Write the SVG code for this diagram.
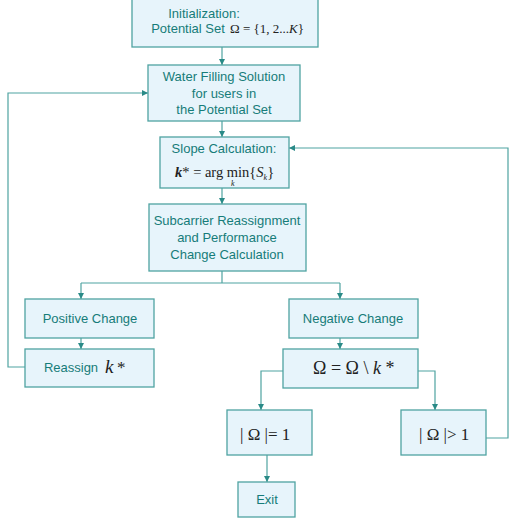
<svg xmlns="http://www.w3.org/2000/svg" width="510" height="520" viewBox="0 0 510 520">
<style>
.box{fill:#e7f4fb;stroke:#4fa3a1;stroke-width:1.3}
.t{font-family:"Liberation Sans",Arial,sans-serif;font-size:13px;fill:#167c79;text-anchor:middle}
.m{font-family:"Liberation Serif","Times New Roman",serif;fill:#222;}
.c{fill:none;stroke:#4fa3a1;stroke-width:1.2}
</style>
<defs>
<marker id="ah" viewBox="0 0 8 8" refX="8" refY="4" markerWidth="6" markerHeight="6" orient="auto" markerUnits="userSpaceOnUse">
<path d="M0,0 L8,4 L0,8 z" fill="#2a8a87"/>
</marker>
</defs>
<rect width="510" height="520" fill="#fff"/>
<g id="connectors">
<path class="c" d="M222,47 V65" marker-end="url(#ah)"/>
<path class="c" d="M222,121 V137" marker-end="url(#ah)"/>
<path class="c" d="M222,188 V204" marker-end="url(#ah)"/>
<path class="c" d="M222,271 V283 M81,283 H340"/>
<path class="c" d="M81,283 V299" marker-end="url(#ah)"/>
<path class="c" d="M340,283 V299" marker-end="url(#ah)"/>
<path class="c" d="M81,338 V349" marker-end="url(#ah)"/>
<path class="c" d="M340,338 V349" marker-end="url(#ah)"/>
<path class="c" d="M25,367 H8 V93 H148" marker-end="url(#ah)"/>
<path class="c" d="M283,371 H261 V410" marker-end="url(#ah)"/>
<path class="c" d="M418,371 H435 V410" marker-end="url(#ah)"/>
<path class="c" d="M267,455 V482" marker-end="url(#ah)"/>
<path class="c" d="M486,438 H508 V148 H289" marker-end="url(#ah)"/>
</g>
<g id="init">
<rect class="box" x="132" y="-2" width="186" height="49"/>
<text class="t" x="204" y="18">Initialization:</text>
<text class="t" x="188" y="33">Potential  Set</text>
<text class="m" x="230" y="33" font-size="13">Ω = {1, 2...<tspan font-style="italic">K</tspan>}</text>
</g>
<g id="waterfill">
<rect class="box" x="148" y="65" width="152" height="56"/>
<text class="t" x="224" y="81">Water Filling Solution</text>
<text class="t" x="224" y="98">for users in</text>
<text class="t" x="224" y="114">the Potential Set</text>
</g>
<g id="slope">
<rect class="box" x="160" y="137" width="129" height="51"/>
<text class="t" x="224" y="153">Slope Calculation:</text>
<text class="m" x="175" y="177" font-size="14.5"><tspan font-style="italic" font-weight="bold">k</tspan>* = arg min{<tspan font-style="italic">S</tspan><tspan font-style="italic" font-size="8" dy="3">k</tspan><tspan dy="-3">}</tspan></text>
<text class="m" x="231" y="186" font-size="8" font-style="italic">k</text>
</g>
<g id="reassignment">
<rect class="box" x="149" y="204" width="157" height="67"/>
<text class="t" x="227" y="225">Subcarrier Reassignment</text>
<text class="t" x="227" y="242">and Performance</text>
<text class="t" x="227" y="259">Change Calculation</text>
</g>
<g id="positive">
<rect class="box" x="25" y="299" width="129" height="39"/>
<text class="t" x="90" y="323">Positive Change</text>
</g>
<g id="reassignk">
<rect class="box" x="25" y="349" width="129" height="38"/>
<text class="t" x="71" y="372">Reassign</text>
<text class="m" x="105" y="373" font-size="19" font-style="italic">k</text>
<text class="m" x="117" y="373" font-size="17">*</text>
</g>
<g id="negative">
<rect class="box" x="289" y="299" width="129" height="39"/>
<text class="t" x="353" y="323">Negative Change</text>
</g>
<g id="omega">
<rect class="box" x="283" y="349" width="135" height="39"/>
<text class="m" x="313" y="374" font-size="18">Ω = Ω \ <tspan font-style="italic">k</tspan> *</text>
</g>
<g id="eq1">
<rect class="box" x="227" y="410" width="85" height="45"/>
<text class="m" x="240" y="440" font-size="17">| Ω |= 1</text>
</g>
<g id="gt1">
<rect class="box" x="401" y="410" width="85" height="45"/>
<text class="m" x="419" y="440" font-size="17">| Ω |&gt; 1</text>
</g>
<g id="exit">
<rect class="box" x="238" y="482" width="57" height="35"/>
<text class="t" x="267" y="504">Exit</text>
</g>
</svg>
